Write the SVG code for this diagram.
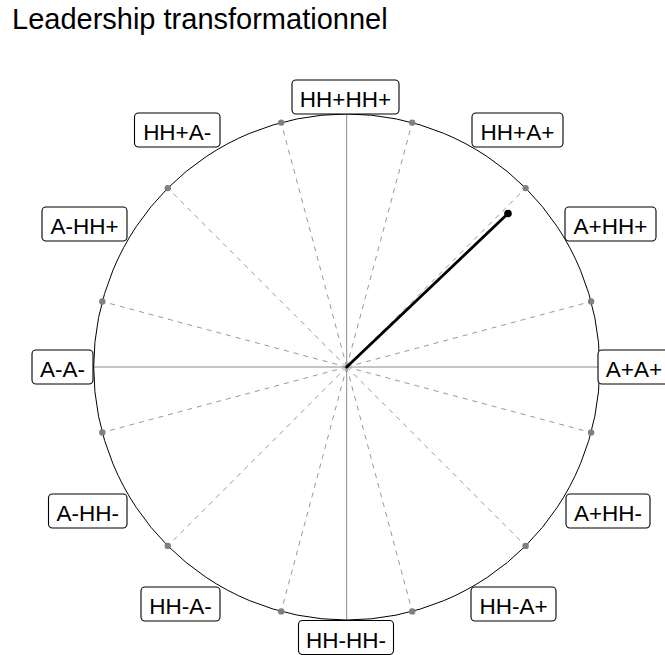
<svg xmlns="http://www.w3.org/2000/svg" width="665" height="655" viewBox="0 0 665 655">
<style>
.bg{fill:#ffffff}
.title{font-family:"Liberation Sans",Arial,sans-serif;font-size:29px;fill:#000}
.lbl rect{fill:#ffffff;stroke:#000;stroke-width:1.1}
.lbl text{font-family:"Liberation Sans",Arial,sans-serif;font-size:22.5px;fill:#000;text-anchor:middle}
.axis{stroke:#8a8a8a;stroke-width:1;fill:none}
.spoke{stroke:#999999;stroke-width:1;stroke-dasharray:5 5;fill:none}
.dot{fill:#808080}
.ring{fill:none;stroke:#000;stroke-width:1}
</style>
<rect class="bg" x="0" y="0" width="665" height="655"/>
<text class="title" x="12" y="29">Leadership transformationnel</text>

<g id="connectors">
  <line class="axis" x1="346.7" y1="114" x2="346.7" y2="620"/>
  <line class="axis" x1="93.7" y1="367" x2="599.7" y2="367"/>
  <g id="spokes">
    <line class="spoke" x1="346.7" y1="367" x2="412.2" y2="122.6"/>
    <line class="spoke" x1="346.7" y1="367" x2="525.6" y2="188.1"/>
    <line class="spoke" x1="346.7" y1="367" x2="591.1" y2="301.5"/>
    <line class="spoke" x1="346.7" y1="367" x2="591.1" y2="432.5"/>
    <line class="spoke" x1="346.7" y1="367" x2="525.6" y2="545.9"/>
    <line class="spoke" x1="346.7" y1="367" x2="412.2" y2="611.4"/>
    <line class="spoke" x1="346.7" y1="367" x2="281.2" y2="611.4"/>
    <line class="spoke" x1="346.7" y1="367" x2="167.8" y2="545.9"/>
    <line class="spoke" x1="346.7" y1="367" x2="102.3" y2="432.5"/>
    <line class="spoke" x1="346.7" y1="367" x2="102.3" y2="301.5"/>
    <line class="spoke" x1="346.7" y1="367" x2="167.8" y2="188.1"/>
    <line class="spoke" x1="346.7" y1="367" x2="281.2" y2="122.6"/>
  </g>
  <circle class="ring" cx="346.7" cy="367" r="253"/>
  <g id="dots">
    <circle class="dot" cx="412.2" cy="122.6" r="3.2"/>
    <circle class="dot" cx="525.6" cy="188.1" r="3.2"/>
    <circle class="dot" cx="591.1" cy="301.5" r="3.2"/>
    <circle class="dot" cx="591.1" cy="432.5" r="3.2"/>
    <circle class="dot" cx="525.6" cy="545.9" r="3.2"/>
    <circle class="dot" cx="412.2" cy="611.4" r="3.2"/>
    <circle class="dot" cx="281.2" cy="611.4" r="3.2"/>
    <circle class="dot" cx="167.8" cy="545.9" r="3.2"/>
    <circle class="dot" cx="102.3" cy="432.5" r="3.2"/>
    <circle class="dot" cx="102.3" cy="301.5" r="3.2"/>
    <circle class="dot" cx="167.8" cy="188.1" r="3.2"/>
    <circle class="dot" cx="281.2" cy="122.6" r="3.2"/>
  </g>
  <g id="vector">
    <line x1="346.7" y1="367" x2="508" y2="213.5" stroke="#000" stroke-width="2.8" stroke-linecap="round"/>
    <circle cx="508" cy="213.5" r="3.8" fill="#000"/>
  </g>
</g>

<g id="label-HHpHHp" class="lbl"><rect x="292" y="80" width="107" height="34" rx="4"/><text x="345.5" y="107">HH+HH+</text></g>
<g id="label-HHpAp" class="lbl"><rect x="472" y="113" width="91" height="34" rx="4"/><text x="517.5" y="140">HH+A+</text></g>
<g id="label-ApHHp" class="lbl"><rect x="565" y="207" width="91" height="34" rx="4"/><text x="610.5" y="234">A+HH+</text></g>
<g id="label-ApAp" class="lbl"><rect x="598" y="350" width="72" height="34" rx="4"/><text x="634" y="377">A+A+</text></g>
<g id="label-ApHHm" class="lbl"><rect x="566" y="494" width="84" height="34" rx="4"/><text x="608" y="521">A+HH-</text></g>
<g id="label-HHmAp" class="lbl"><rect x="471" y="587" width="85" height="34" rx="4"/><text x="513.5" y="614">HH-A+</text></g>
<g id="label-HHmHHm" class="lbl"><rect x="298.5" y="620.5" width="95" height="34" rx="4"/><text x="346" y="647.5">HH-HH-</text></g>
<g id="label-HHmAm" class="lbl"><rect x="141" y="587" width="79" height="34" rx="4"/><text x="180.5" y="614">HH-A-</text></g>
<g id="label-AmHHm" class="lbl"><rect x="48.5" y="494" width="78.5" height="34" rx="4"/><text x="87.7" y="521">A-HH-</text></g>
<g id="label-AmAm" class="lbl"><rect x="32" y="350" width="61" height="34" rx="4"/><text x="62.5" y="377">A-A-</text></g>
<g id="label-AmHHp" class="lbl"><rect x="42" y="207" width="85" height="34" rx="4"/><text x="84.5" y="234">A-HH+</text></g>
<g id="label-HHpAm" class="lbl"><rect x="134.5" y="113" width="85.5" height="34" rx="4"/><text x="177.2" y="140">HH+A-</text></g>
</svg>
